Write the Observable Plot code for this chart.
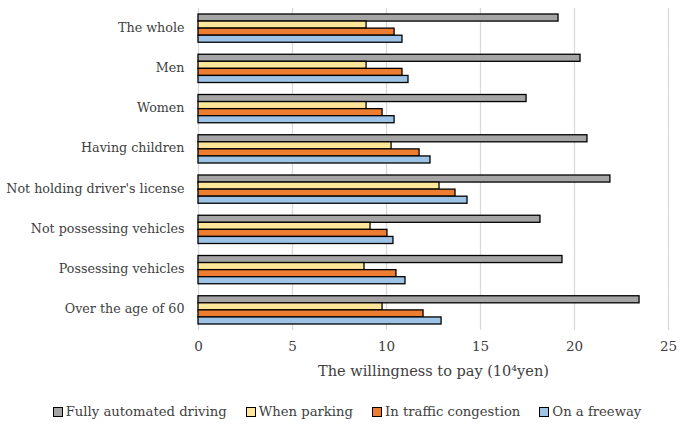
<!DOCTYPE html>
<html>
<head>
<meta charset="utf-8">
<script src="https://cdn.jsdelivr.net/npm/d3@7"></script>
<script src="https://cdn.jsdelivr.net/npm/@observablehq/plot@0.6"></script>
<style>
  body { margin: 0; background: #fff; }
  #chart { width: 680px; }
  .legend { display: flex; justify-content: center; padding-left: 14px; gap: 19px; margin-top: 14px;
    font-family: "DejaVu Serif", serif; font-size: 13.2px; color: #404040; }
  .legend span.item { display: inline-flex; align-items: center; }
  .legend span.sw { width: 8px; height: 8px; border: 1px solid #000; margin-right: 3px; display: inline-block; }
</style>
</head>
<body>
<div id="chart"></div>
<script>
const categories = ["The whole", "Men", "Women", "Having children", "Not holding driver's license", "Not possessing vehicles", "Possessing vehicles", "Over the age of 60"];
const series = ["Fully automated driving", "When parking", "In traffic congestion", "On a freeway"];
const fully = [19.15, 20.32, 17.45, 20.69, 21.91, 18.19, 19.36, 23.46];
const parking = [8.94, 8.94, 8.94, 10.27, 12.82, 9.15, 8.83, 9.79];
const congestion = [10.43, 10.85, 9.79, 11.76, 13.67, 10.05, 10.53, 11.97];
const freeway = [10.85, 11.17, 10.43, 12.34, 14.31, 10.37, 11.01, 12.93];
const xTicks = [0, 5, 10, 15, 20, 25];
const colors = ["#A5A5A5", "#FFE699", "#ED7D31", "#9DC3E6"];

const allSeries = [fully, parking, congestion, freeway];
const data = [];
categories.forEach((c, i) => {
  series.forEach((s, j) => data.push({category: c, series: s, value: allSeries[j][i]}));
});

const chart = Plot.plot({
  width: 680,
  height: 390,
  marginLeft: 198,
  marginRight: 12,
  marginTop: 8,
  marginBottom: 60,
  style: {fontFamily: "DejaVu Serif", fontSize: "13px", color: "#404040", background: "#fff"},
  x: {domain: [0, 25], ticks: xTicks},
  fy: {domain: categories, padding: 0, round: false},
  y: {domain: series, axis: null, paddingInner: 0, paddingOuter: 0.85, round: false},
  color: {domain: series, range: colors},
  marks: [
    Plot.gridX(xTicks, {stroke: "#d9d9d9", strokeOpacity: 1, strokeWidth: 1.3}),
    Plot.barX(data, {x: "value", y: "series", fy: "category", fill: "series", stroke: "#000", strokeWidth: 1.3}),
    Plot.axisX({ticks: xTicks, tickSize: 0, tickPadding: 11, fontSize: 13.5,
      label: null}),
    Plot.axisX({ticks: [], tickSize: 0, fontSize: 14.5,
      label: "The willingness to pay (10\u2074yen)", labelAnchor: "center", labelArrow: "none", labelOffset: 45}),
    Plot.axisFy({anchor: "left", tickSize: 0, tickPadding: 14, label: null, fontSize: 12.7, dy: -1})
  ]
});
document.getElementById("chart").appendChild(chart);

const legend = document.createElement("div");
legend.className = "legend";
series.forEach((s, j) => {
  const item = document.createElement("span");
  item.className = "item";
  const sw = document.createElement("span");
  sw.className = "sw";
  sw.style.background = colors[j];
  item.appendChild(sw);
  item.appendChild(document.createTextNode(s));
  legend.appendChild(item);
});
document.getElementById("chart").appendChild(legend);
</script>
</body>
</html>
